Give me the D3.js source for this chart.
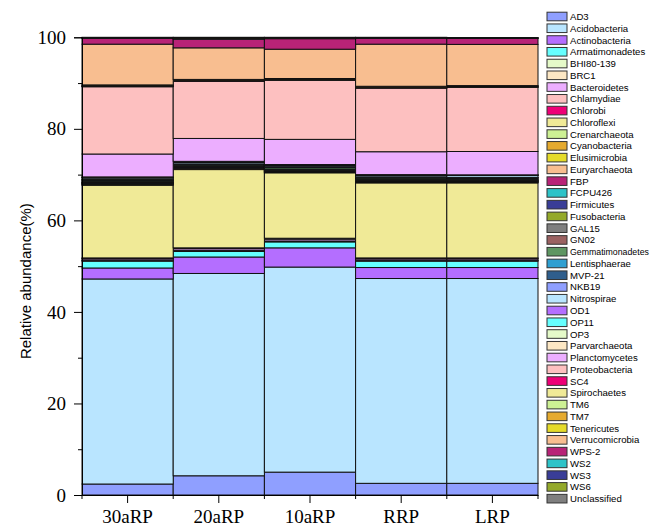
<!DOCTYPE html>
<html>
<head>
<meta charset="utf-8">
<script src="https://cdn.jsdelivr.net/npm/d3@7"></script>
<style>
  html, body { margin: 0; padding: 0; background: #fff; }
  svg { display: block; }
</style>
</head>
<body>
<svg id="chart" width="652" height="526"></svg>
<script>
// ---------- data ----------
const samples = ["30aRP", "20aRP", "10aRP", "RRP", "LRP"];

const phyla = ["AD3","Acidobacteria","Actinobacteria","Armatimonadetes","BHI80-139","BRC1",
  "Bacteroidetes","Chlamydiae","Chlorobi","Chloroflexi","Crenarchaeota","Cyanobacteria",
  "Elusimicrobia","Euryarchaeota","FBP","FCPU426","Firmicutes","Fusobacteria","GAL15","GN02",
  "Gemmatimonadetes","Lentisphaerae","MVP-21","NKB19","Nitrospirae","OD1","OP11","OP3",
  "Parvarchaeota","Planctomycetes","Proteobacteria","SC4","Spirochaetes","TM6","TM7",
  "Tenericutes","Verrucomicrobia","WPS-2","WS2","WS3","WS6","Unclassified"];

const palette = ["#8F9FFF","#B9E5FF","#B46EFF","#66FFFF","#E5FAC9","#FCE7C4","#ECAEFF",
  "#FDC0C0","#EE0077","#F0EA97","#CDF194","#E5AA2F","#E5DB2A","#F8BE90","#B82377",
  "#2DC3C8","#393D97","#94A92B","#7F7F7F","#9B6262","#5E9662","#2E9FD1","#2F5E8C"];

// relative abundance (%) per sample, in the order of `phyla`
const v30aRP = [2.4,44.8,2.4,1.5,0.1,0.1,0.3,0.1,0.1,15.9,
  0.05,0.15,0.05,0.05,0.1,0.05,0.1,0.02,0.1,0.1,0.3,0.03,0.05,0.1,0.3,0.1,0.05,0.05,0.05,
  5.0,14.7,0.05,0.1,0.05,0.15,0.05,8.9,1.3,0.05,0.05,0.05,0.05];
const v20aRP = [4.2,44.2,3.6,1.2,0.1,0.1,0.4,0.1,0.1,17.1,
  0.05,0.2,0.05,0.05,0.1,0.05,0.1,0.02,0.1,0.1,0.25,0.03,0.05,0.1,0.3,0.1,0.05,0.05,0.05,
  5.0,12.5,0.05,0.1,0.05,0.15,0.05,6.9,1.9,0.1,0.1,0.1,0.1];
const v10aRP = [5.0,44.8,4.2,1.3,0.1,0.1,0.4,0.1,0.1,14.3,
  0.05,0.15,0.05,0.05,0.1,0.05,0.1,0.02,0.1,0.1,0.35,0.03,0.05,0.1,0.25,0.1,0.05,0.05,0.05,
  5.5,12.9,0.05,0.1,0.05,0.15,0.05,6.4,2.3,0.05,0.05,0.1,0.1];
const vRRP = [2.55,44.75,2.4,1.4,0.1,0.1,0.3,0.1,0.1,16.4,
  0.05,0.15,0.05,0.05,0.1,0.05,0.1,0.02,0.1,0.1,0.3,0.03,0.05,0.1,0.3,0.1,0.05,0.05,0.05,
  5.0,13.9,0.05,0.1,0.05,0.15,0.05,9.2,1.3,0.05,0.05,0.05,0.05];
const vLRP = [2.55,44.75,2.4,1.4,0.1,0.1,0.3,0.1,0.1,16.4,
  0.05,0.15,0.05,0.05,0.1,0.05,0.1,0.02,0.1,0.1,0.25,0.03,0.05,0.1,0.4,0.05,0.05,0.02,0.03,
  5.1,14.0,0.05,0.1,0.05,0.15,0.05,9.0,1.3,0.05,0.05,0.05,0.05];
const sampleValues = [v30aRP, v20aRP, v10aRP, vRRP, vLRP];

const yMajorTicks = [0, 20, 40, 60, 80, 100];
const yMinorTicks = [10, 30, 50, 70, 90];
const yTitle = "Relative abundance(%)";

// ---------- build table ----------
const table = samples.map((s, i) => {
  const row = { sample: s };
  phyla.forEach((p, j) => { row[p] = sampleValues[i][j]; });
  return row;
});
const color = d3.scaleOrdinal().domain(phyla).range(phyla.map((p, i) => palette[i % palette.length]));

// ---------- drawing ----------
const svg = d3.select("#chart");
const plot = { left: 82, right: 538, top: 37.3, bottom: 495 };

const x = d3.scaleBand().domain(samples).range([plot.left, plot.right]).padding(0);
const y = d3.scaleLinear().domain([0, 100]).range([plot.bottom, plot.top]);

const series = d3.stack().keys(phyla)(table);

svg.append("g").selectAll("g")
  .data(series).join("g")
  .attr("fill", d => color(d.key))
  .selectAll("rect")
  .data(d => d).join("rect")
  .attr("x", d => x(d.data.sample))
  .attr("width", x.bandwidth())
  .attr("y", d => y(d[1]))
  .attr("height", d => Math.max(0, y(d[0]) - y(d[1])))
  .attr("stroke", "#111")
  .attr("stroke-width", 1);

// Y axis
const yAxis = svg.append("g")
  .attr("transform", `translate(${plot.left},0)`)
  .call(d3.axisLeft(y).tickValues(yMajorTicks).tickSize(8).tickPadding(8).tickFormat(d3.format("d")));
yAxis.selectAll("text")
  .attr("font-family", "'Liberation Serif', 'Times New Roman', serif")
  .attr("font-size", 19).attr("fill", "#000");
yAxis.select(".domain").attr("stroke", "#000");
svg.append("g")
  .attr("transform", `translate(${plot.left},0)`)
  .call(d3.axisLeft(y).tickValues(yMinorTicks).tickSize(4).tickFormat(""))
  .select(".domain").remove();

// X axis
const xAxis = svg.append("g")
  .attr("transform", `translate(0,${plot.bottom})`)
  .call(d3.axisBottom(x).tickSize(8).tickPadding(7).tickSizeOuter(0));
xAxis.selectAll("text")
  .attr("font-family", "'Liberation Serif', 'Times New Roman', serif")
  .attr("font-size", 19).attr("fill", "#000");
// minor ticks on bar edges
const edges = samples.map(s => x(s)).concat([x(samples[samples.length - 1]) + x.bandwidth()]);
svg.append("g").selectAll("line")
  .data(edges).join("line")
  .attr("x1", d => d).attr("x2", d => d)
  .attr("y1", plot.bottom).attr("y2", plot.bottom + 4)
  .attr("stroke", "#000");

// Y title
svg.append("text")
  .attr("transform", `translate(25,${(plot.top + plot.bottom) / 2 + 15}) rotate(-90)`)
  .attr("text-anchor", "middle")
  .attr("dominant-baseline", "central")
  .attr("font-family", "'Liberation Sans', Arial, sans-serif")
  .attr("font-size", 15)
  .text(yTitle);

// Legend
const legendFont = 9.6;
const legend = svg.append("g");
const item = legend.selectAll("g").data(phyla).join("g")
  .attr("transform", (d, i) => `translate(547,${16.5 + i * 11.76})`);
item.append("rect")
  .attr("x", 0).attr("y", -4.3).attr("width", 20).attr("height", 8.6)
  .attr("fill", d => color(d)).attr("stroke", "#333").attr("stroke-width", 1);
const labels = item.append("text")
  .attr("x", 23).attr("y", 0)
  .attr("dominant-baseline", "central")
  .attr("font-family", "'Liberation Sans', Arial, sans-serif")
  .attr("font-size", legendFont)
  .text(d => d);
// shrink long labels so they stay inside the picture
labels.each(function () {
  const maxW = 652 - 570 - 3;
  const len = this.getComputedTextLength();
  if (len > maxW) {
    d3.select(this).attr("font-size", (legendFont * maxW / len).toFixed(2));
  }
});
</script>
</body>
</html>
